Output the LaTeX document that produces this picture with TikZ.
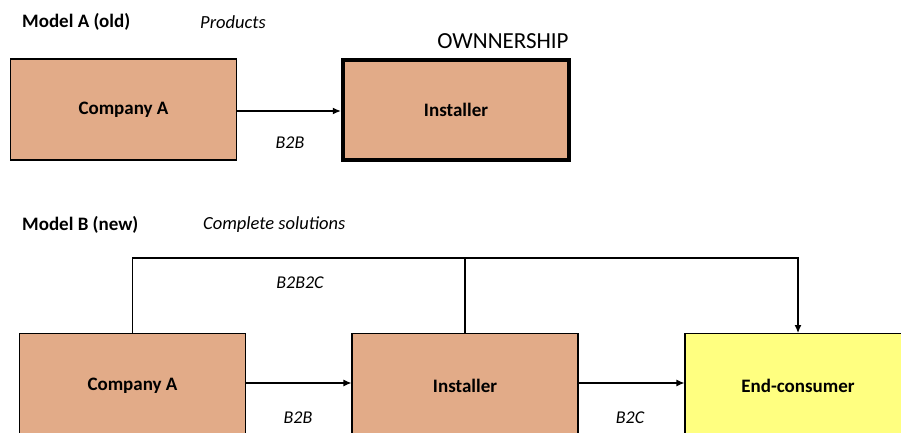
\documentclass[tikz,border=0pt]{standalone}
\usepackage{fontspec}
\setmainfont{Carlito}
\usepackage{xcolor}
\usetikzlibrary{positioning}
\usetikzlibrary{arrows.meta}
\definecolor{boxfill}{RGB}{226,171,136}
\definecolor{endfill}{RGB}{255,255,128}
\tikzset{
	box/.style={draw, line width=1.1pt, fill=boxfill, minimum width=226pt, minimum height=101pt, inner sep=0pt, font=\fontsize{19}{22}\selectfont\bfseries},
	heading/.style={anchor=west, inner sep=0pt, font=\fontsize{19}{22}\selectfont\bfseries},
	note/.style={anchor=west, inner sep=0pt, font=\fontsize{18.5}{22}\selectfont\itshape},
	flow/.style={inner sep=0pt, font=\fontsize{18}{22}\selectfont\itshape},
	link/.style={line width=1.1pt, -{Latex[length=8pt,width=7pt]}}
}

\begin{document}
\begin{tikzpicture}[x=1pt, y=-1pt]
		\useasboundingbox (0,0) rectangle (901,433);
		\clip (0,0) rectangle (901,433);
		
		% model A
		\node[heading] (modelA) at (22,22) {Model A (old)};
		\node[note] (products) at (200,22) {Products};
		
		\node[box] (compA) at (123.5,109.5) {Company A};
		\node[box, line width=4.5pt, minimum width=226pt, minimum height=100pt] (instA) at (456,110) {Installer};
		\node[inner sep=0pt, anchor=south, font=\fontsize{23}{26}\selectfont] (owner) at (503,49) {OWNNERSHIP};
		
		\node[flow] (b2bA) at (290,143) {B2B};
		
		\draw[link] (compA.east |- 0,111) to (instA.west |- 0,111);
		
		% model B
		\node[heading] (modelB) at (22,225) {Model B (new)};
		\node[note] (solutions) at (203,225) {Complete solutions};
		
		\node[box, minimum height=106pt, anchor=north] (compB) at (132.5,333) {};
		\node[box, minimum height=106pt, anchor=north] (instB) at (465,333) {};
		\node[box, minimum height=106pt, anchor=north, fill=endfill] (endB) at (798,333) {};
		\node[font=\fontsize{19}{22}\selectfont\bfseries] (compBtxt) at (132.5,386) {Company A};
		\node[font=\fontsize{19}{22}\selectfont\bfseries] (instBtxt) at (465,386) {Installer};
		\node[font=\fontsize{19}{22}\selectfont\bfseries] (endBtxt) at (798,386) {End-consumer};
		
		\node[flow] (b2b2c) at (300,283) {B2B2C};
		\node[flow] (b2bB) at (298,418) {B2B};
		\node[flow] (b2c) at (630,418) {B2C};
		
		\draw[link] (compB.east |- 0,383) to (instB.west |- 0,383);
		\draw[link] (instB.east |- 0,383) to (endB.west |- 0,383);
		\draw[link] (compB.north) -- ++(0,-75) coordinate (bus) -| (endB.north);
		\draw[line width=1.1pt] (instB.north) -- (instB.north |- bus);
	\end{tikzpicture}
\end{document}
